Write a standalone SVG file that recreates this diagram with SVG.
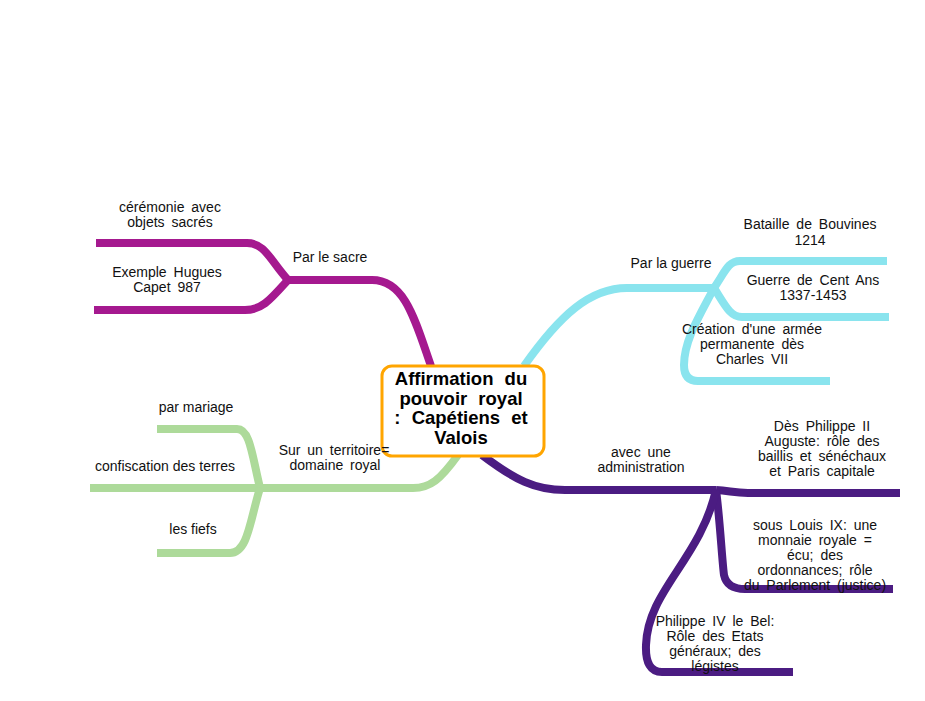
<svg xmlns="http://www.w3.org/2000/svg" width="925" height="701" viewBox="0 0 925 701">
<style>
.b{fill:none;stroke-width:8;stroke-linecap:butt;stroke-linejoin:round}
.p{stroke:#A5198F}.c{stroke:#8AE4EE}.g{stroke:#ADDA9A}.d{stroke:#4B1C82}
text{font-family:"Liberation Sans",Arial,sans-serif;font-size:14px;fill:#111;text-anchor:middle;word-spacing:3px}
.n{word-spacing:0}
.t{font-size:18.5px;font-weight:bold;fill:#000;word-spacing:6px}
</style>
<rect width="925" height="701" fill="#fff"/>
<g id="connectors">
<path class="b p" d="M431,366 C415,320 405,280 372,280 L288,280"/>
<path class="b p" d="M288,280 C270,260 265,243 247,243 L96,243"/>
<path class="b p" d="M288,280 C270,300 262,310 245,310 L94,310"/>
<path class="b c" d="M524,366 C560,315 590,288 627,288 L714,288"/>
<path class="b c" d="M714,288 C725,272 728,261 740,261 L887,261"/>
<path class="b c" d="M714,288 C725,305 730,317 742,317 L889,317"/>
<path class="b c" d="M714,288 C700,315 684,340 684,365 Q684,381 698,381 L830,381"/>
<path class="b g" d="M458,455 C440,480 430,488 413,488 L260,488"/>
<path class="b g" d="M260,488 C252,455 250,429 237,429 L157,429"/>
<path class="b g" d="M260,488 L90,488"/>
<path class="b g" d="M260,488 C250,520 248,553 230,553 L157,553"/>
<path class="b d" d="M482,455 C515,480 535,490 565,490 L716,490"/>
<path class="b d" d="M716,490 C730,491 735,493 748,493 L900,493"/>
<path class="b d" d="M716,490 C720,520 722,560 724,575 Q727,589 745,589 L893,589"/>
<path class="b d" d="M716,490 C700,560 648,590 646,645 Q645,672 662,672 L793,672"/>
</g>
<g id="center">
<rect x="382" y="366" width="162" height="90" rx="10" fill="#fff" stroke="#FFA500" stroke-width="3"/>
<text class="t" x="461" y="385">Affirmation du</text>
<text class="t" x="461" y="405">pouvoir royal</text>
<text class="t" x="461" y="424">: Capétiens et</text>
<text class="t" x="461" y="444">Valois</text>
</g>
<g id="sacre"><text class="n" x="330" y="262">Par le sacre</text></g>
<g id="ceremonie"><text x="170" y="212">cérémonie avec</text><text x="170" y="227">objets sacrés</text></g>
<g id="hugues"><text x="167" y="277">Exemple Hugues</text><text x="167" y="292">Capet 987</text></g>
<g id="guerre"><text class="n" x="671" y="268">Par la guerre</text></g>
<g id="bouvines"><text x="810" y="229">Bataille de Bouvines</text><text x="810" y="245">1214</text></g>
<g id="centans"><text x="813" y="285">Guerre de Cent Ans</text><text x="813" y="300">1337-1453</text></g>
<g id="armee"><text x="752" y="334">Création d'une armée</text><text x="752" y="349">permanente dès</text><text x="752" y="364">Charles VII</text></g>
<g id="territoire"><text x="334" y="455">Sur un territoire=</text><text x="335" y="470">domaine royal</text></g>
<g id="mariage"><text class="n" x="196" y="412">par mariage</text></g>
<g id="confiscation"><text class="n" x="165" y="471">confiscation des terres</text></g>
<g id="fiefs"><text class="n" x="193" y="534">les fiefs</text></g>
<g id="admin"><text x="641" y="457">avec une</text><text x="641" y="472">administration</text></g>
<g id="philippe2"><text x="822" y="431">Dès Philippe II</text><text x="822" y="446">Auguste: rôle des</text><text x="822" y="461">baillis et sénéchaux</text><text x="822" y="476">et Paris capitale</text></g>
<g id="louis9"><text x="815" y="530">sous Louis IX: une</text><text x="815" y="545">monnaie royale =</text><text x="815" y="560">écu; des</text><text x="815" y="575">ordonnances; rôle</text><text x="815" y="590">du Parlement (justice)</text></g>
<g id="philippe4"><text x="715" y="626">Philippe IV le Bel:</text><text x="715" y="641">Rôle des Etats</text><text x="715" y="656">généraux; des</text><text x="715" y="671">légistes</text></g>
</svg>
